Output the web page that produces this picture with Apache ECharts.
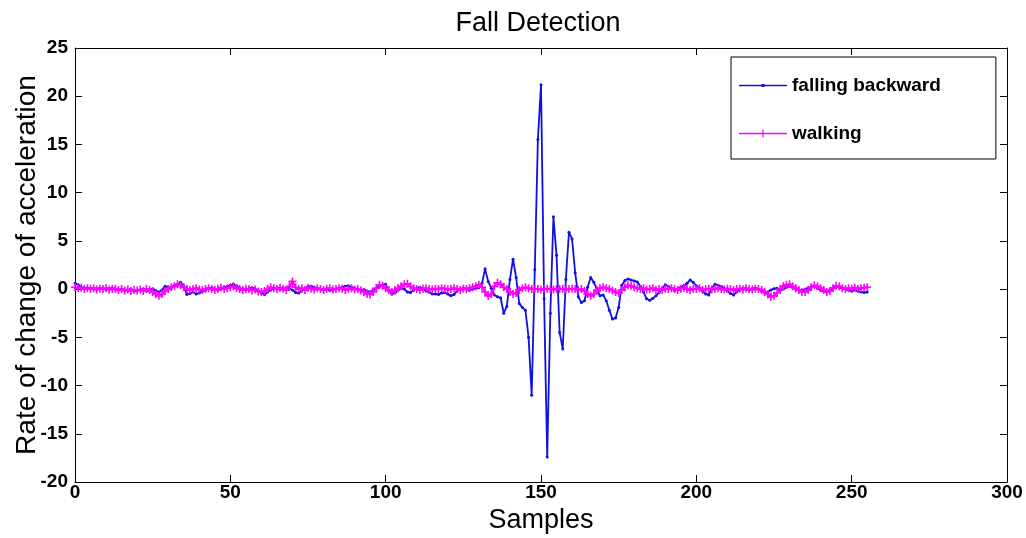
<!DOCTYPE html>
<html>
<head>
<meta charset="utf-8">
<script src="https://cdn.jsdelivr.net/npm/echarts@6/dist/echarts.min.js"></script>
<style>
html,body{margin:0;padding:0;background:#fff;}
#chart{width:1026px;height:538px;}
</style>
</head>
<body>
<div id="chart"></div>
<script>
var titleText = "Fall Detection";
var xAxisName = "Samples";
var yAxisName = "Rate of change of acceleration";
var seriesNames = ["falling backward", "walking"];
var xTicks = {min: 0, max: 300, interval: 50};
var yTicks = {min: -20, max: 25, interval: 5};

var fallingBackward = [
 0.6,0.45,0.2,0.1,0.15,0.05,0.1,0.0,0.1,0.05,
 -0.05,0.05,0.1,0.0,-0.1,0.0,-0.15,-0.1,0.0,-0.2,
 -0.15,-0.05,0.0,-0.2,-0.1,0.05,-0.15,-0.3,-0.1,0.3,
 0.2,0.15,0.4,0.5,0.7,0.3,-0.55,-0.45,-0.3,-0.5,
 -0.4,-0.2,-0.1,0.1,0.15,0.0,-0.1,0.05,0.2,0.25,
 0.4,0.5,0.35,0.1,0.0,-0.1,0.05,0.15,0.0,-0.2,
 -0.4,-0.55,-0.3,-0.1,0.1,0.0,-0.05,0.1,0.05,0.1,
 -0.1,-0.35,-0.4,-0.2,0.1,0.25,0.3,0.2,0.05,0.0,
 -0.1,0.0,-0.15,-0.1,0.05,0.1,0.2,0.3,0.35,0.2,
 0.1,0.0,-0.1,-0.05,-0.2,-0.3,-0.1,0.1,0.3,0.45,
 0.5,-0.2,-0.5,-0.4,-0.1,0.1,0.0,-0.3,-0.35,-0.1,
 0.1,0.2,0.0,-0.2,-0.3,-0.5,-0.5,-0.55,-0.4,-0.35,
 -0.5,-0.7,-0.55,-0.2,0.0,0.1,0.0,-0.1,0.0,0.1,
 0.15,0.6,2.1,0.8,0.1,-0.6,-0.8,-0.9,-2.5,-1.8,
 1.0,3.1,1.2,-1.5,-1.9,-2.2,-5.0,-11.0,2.0,15.5,
 21.2,-1.0,-17.4,-2.5,7.5,3.5,-4.5,-6.2,1.0,5.9,
 5.2,1.7,-0.8,-1.4,-1.2,0.2,1.2,0.7,0.0,-0.7,
 -0.6,-1.2,-2.2,-3.1,-3.0,-1.9,0.4,0.9,1.05,0.95,
 0.85,0.75,0.3,-0.3,-1.0,-1.15,-0.95,-0.7,-0.35,0.1,
 0.45,0.3,0.1,-0.15,0.0,0.2,0.35,0.6,0.95,0.7,
 0.35,0.1,-0.2,-0.5,-0.6,0.1,0.5,0.4,0.3,0.1,
 -0.2,-0.45,-0.6,-0.3,0.0,0.1,0.0,-0.1,0.05,0.1,
 0.0,-0.2,-0.35,-0.3,-0.1,0.05,0.1,-0.1,0.0,0.2,
 0.3,0.2,0.0,-0.1,-0.2,0.0,0.1,0.2,0.3,0.1,
 -0.1,-0.2,-0.3,-0.1,0.1,0.3,0.2,0.1,0.0,-0.1,
 -0.2,-0.1,-0.2,-0.3,-0.35,-0.3
];

var walking = [
 0.2,0.1,0.15,0.0,0.1,0.05,0.1,-0.05,0.05,0.0,
 0.1,-0.05,0.0,0.05,-0.1,0.0,-0.15,-0.05,-0.2,-0.1,
 -0.15,-0.05,-0.2,0.0,-0.1,-0.3,-0.5,-0.7,-0.5,-0.2,
 0.0,0.2,0.3,0.5,0.4,0.2,0.0,-0.1,0.0,0.1,
 -0.05,-0.1,0.0,0.1,0.0,-0.1,0.05,0.15,0.0,0.1,
 0.2,0.3,0.1,0.0,-0.1,0.05,0.0,-0.15,-0.05,-0.25,
 -0.3,-0.2,0.0,0.2,0.1,0.0,0.15,0.05,-0.1,0.3,
 0.8,0.2,0.0,0.1,-0.1,0.15,0.05,-0.05,0.1,0.0,
 -0.1,0.05,0.1,-0.05,0.0,0.1,0.05,-0.1,0.0,0.1,
 -0.05,0.0,-0.15,-0.3,-0.5,-0.55,-0.3,0.1,0.45,0.35,
 0.1,-0.1,-0.3,-0.1,0.1,0.3,0.5,0.55,0.3,0.1,
 0.0,-0.1,0.05,0.1,0.0,-0.05,0.05,0.0,0.1,0.05,
 -0.05,0.0,0.1,0.0,-0.1,0.05,0.0,0.1,0.2,0.3,
 0.45,0.2,-0.3,-0.7,-0.5,0.3,0.65,0.5,0.2,0.0,
 -0.3,-0.5,-0.4,-0.1,0.1,0.2,0.1,0.0,0.05,0.0,
 -0.05,0.0,0.05,0.0,-0.05,0.05,0.0,0.05,-0.05,0.0,
 0.05,0.0,-0.1,0.0,-0.2,-0.5,-0.7,-0.5,-0.1,0.1,
 0.2,0.1,0.0,-0.15,-0.3,-0.4,-0.1,0.2,0.4,0.35,
 0.2,0.1,0.0,0.1,-0.05,0.0,0.1,-0.1,0.0,-0.1,
 0.05,0.0,0.1,0.0,-0.1,0.05,0.15,0.0,-0.1,0.05,
 0.0,0.1,-0.1,0.0,0.05,-0.05,0.0,0.1,0.0,-0.05,
 0.05,0.0,-0.1,0.0,0.05,-0.05,0.1,0.0,-0.05,0.05,
 0.0,-0.1,-0.3,-0.55,-0.8,-0.7,-0.4,0.0,0.3,0.45,
 0.5,0.3,0.1,-0.1,-0.3,-0.3,-0.1,0.2,0.4,0.3,
 0.1,-0.1,-0.3,-0.2,0.1,0.35,0.3,0.1,0.0,0.1,
 0.05,0.15,0.0,0.1,0.15,0.2
];

function toPairs(arr){ return arr.map(function(v,i){ return [i, v]; }); }

var plusPath = 'path://M4,0h2v4h4v2h-4v4h-2v-4h-4v-2h4z';
var legendDotIcon = 'path://M0,0M48,8M0,3.3h48v1.4h-48zM22.6,2.6h2.8v2.8h-2.8z';
var legendPlusIcon = 'path://M0,3.3h48v1.4h-48zM23.4,0h1.2v8h-1.2z';
var FONT = 'Liberation Sans, Arial, sans-serif';

var chart = echarts.init(document.getElementById('chart'), null, {renderer:'canvas'});
var axisLineStyle = {show:true, onZero:false, lineStyle:{color:'#000', width:1}};
var tickStyle = {show:true, inside:true, length:7, lineStyle:{color:'#000', width:1}};
var labelStyle = {color:'#000', fontFamily:FONT, fontSize:19, fontWeight:'bold'};

chart.setOption({
  backgroundColor:'#fff',
  animation:false,
  title:{
    text:titleText, left:533, top:5, textAlign:'center',
    textStyle:{fontFamily:FONT, fontSize:27, fontWeight:'normal', color:'#000'}
  },
  grid:{left:75, right:19, top:48, bottom:56, containLabel:false, outerBoundsMode:'none'},
  legend:{
    data:[
      {name:seriesNames[0], icon:legendDotIcon},
      {name:seriesNames[1], icon:legendPlusIcon}
    ],
    orient:'vertical', left:731, top:57,
    itemWidth:48, itemHeight:8, itemGap:29,
    padding:[19, 55, 16, 8],
    backgroundColor:'#fff', borderColor:'#000', borderWidth:1,
    textStyle:{fontFamily:FONT, fontSize:19, fontWeight:'bold', color:'#000'}
  },
  xAxis:[{
    type:'value', min:xTicks.min, max:xTicks.max, interval:xTicks.interval,
    name:xAxisName, nameLocation:'middle', nameGap:25, nameMoveOverlap:false,
    nameTextStyle:{fontFamily:FONT, fontSize:27, color:'#000'},
    axisLine:axisLineStyle, axisTick:tickStyle,
    axisLabel:Object.assign({margin:1}, labelStyle),
    splitLine:{show:false}
  },{
    type:'value', position:'top', min:xTicks.min, max:xTicks.max, interval:xTicks.interval,
    axisLine:axisLineStyle, axisTick:tickStyle, axisLabel:{show:false}, splitLine:{show:false}
  }],
  yAxis:[{
    type:'value', min:yTicks.min, max:yTicks.max, interval:yTicks.interval,
    name:yAxisName, nameLocation:'middle', nameGap:34, nameMoveOverlap:false,
    nameTextStyle:{fontFamily:FONT, fontSize:28, color:'#000'},
    axisLine:axisLineStyle, axisTick:tickStyle,
    axisLabel:Object.assign({margin:7}, labelStyle),
    splitLine:{show:false}
  },{
    type:'value', position:'right', min:yTicks.min, max:yTicks.max, interval:yTicks.interval,
    axisLine:axisLineStyle, axisTick:tickStyle, axisLabel:{show:false}, splitLine:{show:false}
  }],
  series:[{
    name:seriesNames[0], type:'line', xAxisIndex:0, yAxisIndex:0,
    data:toPairs(fallingBackward),
    symbol:'circle', symbolSize:3, showAllSymbol:true,
    lineStyle:{color:'#1010e0', width:1.8},
    itemStyle:{color:'#1010e0'}
  },{
    name:seriesNames[1], type:'line', xAxisIndex:0, yAxisIndex:0,
    data:toPairs(walking),
    symbol:plusPath, symbolSize:8, showAllSymbol:true,
    lineStyle:{color:'#ff00ff', width:1.8},
    itemStyle:{color:'#ff00ff'}
  }]
});
</script>
</body>
</html>
